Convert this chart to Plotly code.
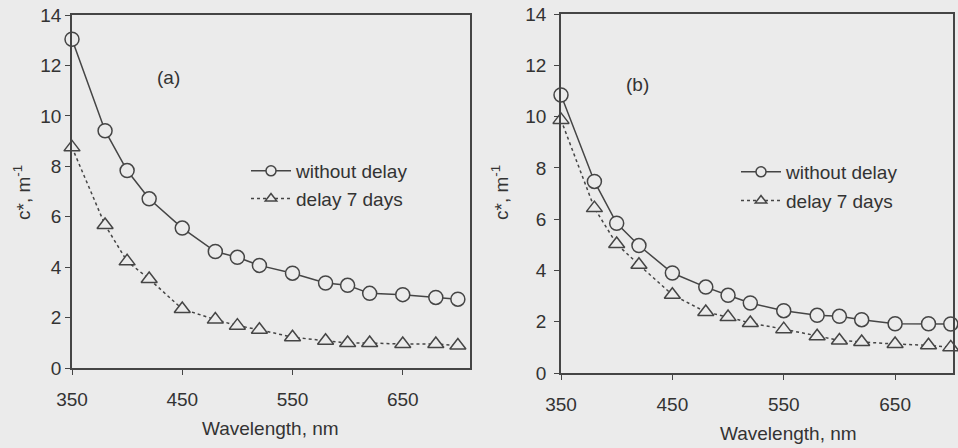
import plotly.graph_objects as go

wavelength = [350, 380, 400, 420, 450, 480, 500, 520, 550, 580, 600, 620, 650, 680, 700]

a_without = [13.04, 9.41, 7.83, 6.71, 5.55, 4.62, 4.39, 4.07, 3.76, 3.37, 3.28, 2.96, 2.91, 2.80, 2.73]
a_delay = [8.75, 5.67, 4.23, 3.53, 2.34, 1.92, 1.68, 1.52, 1.22, 1.08, 0.99, 0.99, 0.95, 0.95, 0.89]

b_without = [10.84, 7.47, 5.84, 4.97, 3.90, 3.35, 3.03, 2.73, 2.43, 2.25, 2.21, 2.08, 1.92, 1.92, 1.91]
b_delay = [9.87, 6.43, 5.03, 4.22, 3.05, 2.38, 2.18, 1.95, 1.71, 1.43, 1.27, 1.21, 1.13, 1.08, 1.00]

x_ticks = [350, 450, 550, 650]
y_ticks = [0, 2, 4, 6, 8, 10, 12, 14]
series_names = ["without delay", "delay 7 days"]
panel_labels = ["(a)", "(b)"]

BG = "#ebebeb"
INK = "#454545"
TXT = "#333333"
FONT = "Liberation Sans, Arial, sans-serif"

fig = go.Figure()

panels = [
    ("x", "y", a_without, a_delay, "legend"),
    ("x2", "y2", b_without, b_delay, "legend2"),
]
for xa, ya, s1, s2, leg in panels:
    fig.add_trace(go.Scatter(
        x=wavelength, y=s1, xaxis=xa, yaxis=ya, mode="lines+markers",
        line=dict(color=INK, width=1.5, dash="solid"),
        marker=dict(symbol="circle", size=14, color=BG, line=dict(color=INK, width=1.5)),
        showlegend=False, cliponaxis=False))
    fig.add_trace(go.Scatter(
        x=wavelength, y=s2, xaxis=xa, yaxis=ya, mode="lines+markers",
        line=dict(color=INK, width=1.5, dash="dot"),
        marker=dict(symbol="triangle-up", size=14, color=BG, line=dict(color=INK, width=1.5)),
        showlegend=False, cliponaxis=False))
    # legend-only entries with smaller symbols
    fig.add_trace(go.Scatter(
        x=[None], y=[None], xaxis=xa, yaxis=ya, mode="lines+markers", name=series_names[0],
        line=dict(color=INK, width=1.5, dash="solid"),
        marker=dict(symbol="circle", size=10, color=BG, line=dict(color=INK, width=1.5)),
        legend=leg, legendgroup=leg + "1"))
    fig.add_trace(go.Scatter(
        x=[None], y=[None], xaxis=xa, yaxis=ya, mode="lines+markers", name=series_names[1],
        line=dict(color=INK, width=1.5, dash="dot"),
        marker=dict(symbol="triangle-up", size=10, color=BG, line=dict(color=INK, width=1.5)),
        legend=leg, legendgroup=leg + "2"))

W, H = 958, 448
def px_x(p):
    return p / W
def px_y(p):
    return (H - p) / H

axis_common = dict(
    showline=True, linecolor=INK, linewidth=1.5, mirror=True,
    ticks="outside", ticklen=5, tickwidth=1.2, tickcolor=INK,
    showgrid=False, zeroline=False, automargin=False,
    tickfont=dict(family=FONT, size=19, color=TXT),
)

fig.update_layout(
    width=W, height=H,
    margin=dict(l=0, r=0, t=0, b=0),
    paper_bgcolor=BG, plot_bgcolor=BG,
    font=dict(family=FONT, size=19, color=TXT),
    xaxis=dict(domain=[px_x(72), px_x(470)], range=[350, 711], tickvals=x_ticks,
               anchor="y", ticklabelstandoff=8, **axis_common),
    yaxis=dict(domain=[px_y(368), px_y(15)], range=[0, 14], tickvals=y_ticks,
               anchor="x", ticklabelstandoff=0, **axis_common),
    xaxis2=dict(domain=[px_x(561), px_x(953)], range=[350, 702], tickvals=x_ticks,
                anchor="y2", ticklabelstandoff=8, **axis_common),
    yaxis2=dict(domain=[px_y(373), px_y(14)], range=[0, 14], tickvals=y_ticks,
                anchor="x2", ticklabelstandoff=4, **axis_common),
    legend=dict(x=px_x(246), y=px_y(152), xanchor="left", yanchor="top",
                bgcolor="rgba(0,0,0,0)", font=dict(family=FONT, size=19, color=TXT),
                tracegroupgap=0, traceorder="grouped", itemwidth=40),
    legend2=dict(x=px_x(736), y=px_y(153), xanchor="left", yanchor="top",
                 bgcolor="rgba(0,0,0,0)", font=dict(family=FONT, size=19, color=TXT),
                 tracegroupgap=1, traceorder="grouped", itemwidth=40),
)

def note(text, xp, yp, angle=0):
    return dict(text=text, x=px_x(xp), y=px_y(yp), xref="paper", yref="paper",
                xanchor="center", yanchor="middle", showarrow=False, textangle=angle,
                font=dict(size=19, color=TXT, family=FONT))

annotations = [
    note(panel_labels[0], 168, 77),
    note(panel_labels[1], 637, 84),
    note("Wavelength, nm", 270, 428),
    note("Wavelength, nm", 788, 433),
    note("c*, m<sup>-1</sup>", 22, 193, -90),
    note("c*, m<sup>-1</sup>", 500, 193, -90),
]
fig.update_layout(annotations=annotations)

fig.write_html("out.html", config={"displayModeBar": False},
               post_script="document.body.style.margin='0px';document.body.style.background='%s';" % BG)
